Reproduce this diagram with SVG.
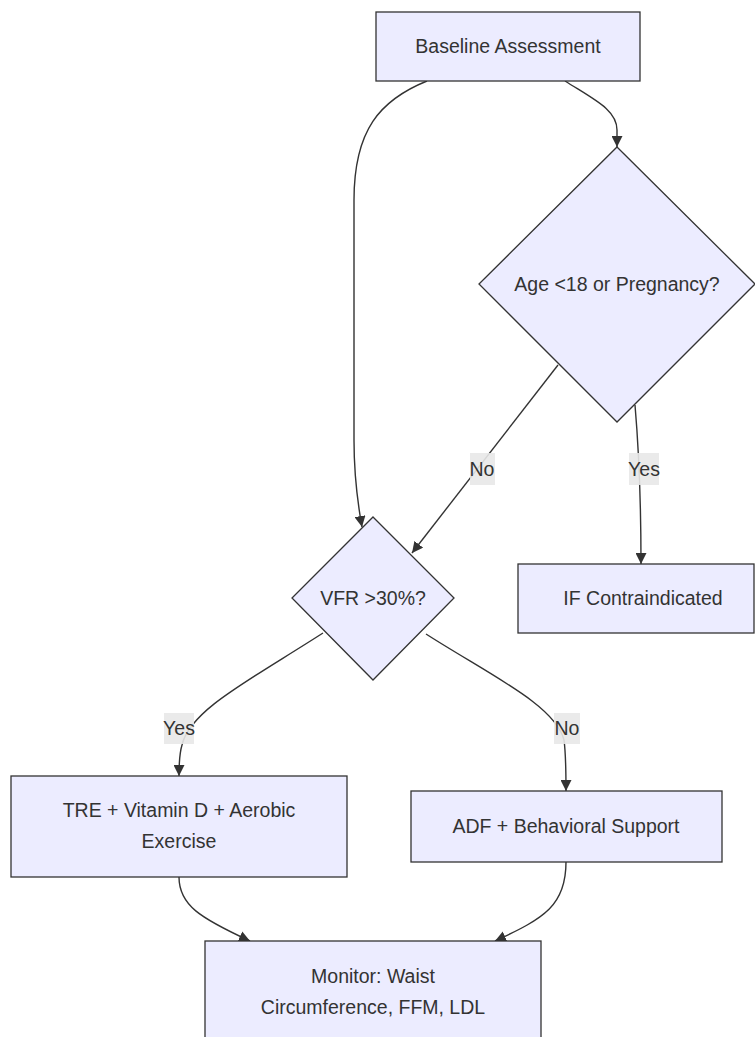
<svg xmlns="http://www.w3.org/2000/svg" width="755" height="1037" viewBox="0 0 755 1037">
<style>
.node{fill:#ECECFF;stroke:#333;stroke-width:1.3}
.t{font-family:"Trebuchet MS","Liberation Sans",Arial,sans-serif;font-size:19.5px;fill:#333;text-anchor:middle;dominant-baseline:central}
.edge{fill:none;stroke:#333;stroke-width:1.4}
.lbl{fill:#e8e8e8;opacity:0.9}
</style>
<defs>
<marker id="arr" viewBox="0 0 10 10" refX="10" refY="5" markerWidth="11" markerHeight="11" markerUnits="userSpaceOnUse" orient="auto">
<path d="M0,0 L10,5 L0,10 z" fill="#333"/>
</marker>
</defs>
<rect width="755" height="1037" fill="#fff"/>
<g id="connectors">
<path class="edge" d="M427,81 C380,100 354,130 354,200 L354,440 C354,480 358,505 362,527" marker-end="url(#arr)"/>
<path class="edge" d="M565,81 C595,100 617,110 617,130 L617,147" marker-end="url(#arr)"/>
<path class="edge" d="M558,365 L412,553" marker-end="url(#arr)"/>
<path class="edge" d="M635,405 C638,440 641,480 641,564" marker-end="url(#arr)"/>
<path class="edge" d="M323,633 C250,680 190,710 182,745 C179,755 179,765 179,776" marker-end="url(#arr)"/>
<path class="edge" d="M426,634 C490,675 555,705 564,740 C566,755 566,770 566,791" marker-end="url(#arr)"/>
<path class="edge" d="M179,877 C179,905 200,918 250,941" marker-end="url(#arr)"/>
<path class="edge" d="M566,862 C566,905 545,918 495,941" marker-end="url(#arr)"/>
<g id="label-no-1"><rect class="lbl" x="470" y="453" width="25" height="32"/><text class="t" x="482" y="469">No</text></g>
<g id="label-yes-1"><rect class="lbl" x="629" y="453" width="30" height="32"/><text class="t" x="644" y="469">Yes</text></g>
<g id="label-yes-2"><rect class="lbl" x="164" y="713" width="30" height="31"/><text class="t" x="179" y="728">Yes</text></g>
<g id="label-no-2"><rect class="lbl" x="554" y="713" width="26" height="31"/><text class="t" x="567" y="728">No</text></g>
</g>
<g id="baseline"><rect class="node" x="376" y="12" width="264" height="69"/><text class="t" x="508" y="46">Baseline Assessment</text></g>
<g id="age"><polygon class="node" points="617,147 755,284 617,422 479,284"/><text class="t" x="617" y="284">Age &lt;18 or Pregnancy?</text></g>
<g id="vfr"><polygon class="node" points="373,517 454,598 373,680 292,598"/><text class="t" x="373" y="598">VFR &gt;30%?</text></g>
<g id="contra"><rect class="node" x="518" y="564" width="236" height="69"/><text class="t" x="643" y="598">IF Contraindicated</text></g>
<g id="tre"><rect class="node" x="11" y="776" width="336" height="101"/><text class="t" x="179" y="810">TRE + Vitamin D + Aerobic</text><text class="t" x="179" y="841">Exercise</text></g>
<g id="adf"><rect class="node" x="411" y="791" width="311" height="71"/><text class="t" x="566" y="826">ADF + Behavioral Support</text></g>
<g id="monitor"><rect class="node" x="205" y="941" width="336" height="110"/><text class="t" x="373" y="976">Monitor: Waist</text><text class="t" x="373" y="1007">Circumference, FFM, LDL</text></g>
</svg>
